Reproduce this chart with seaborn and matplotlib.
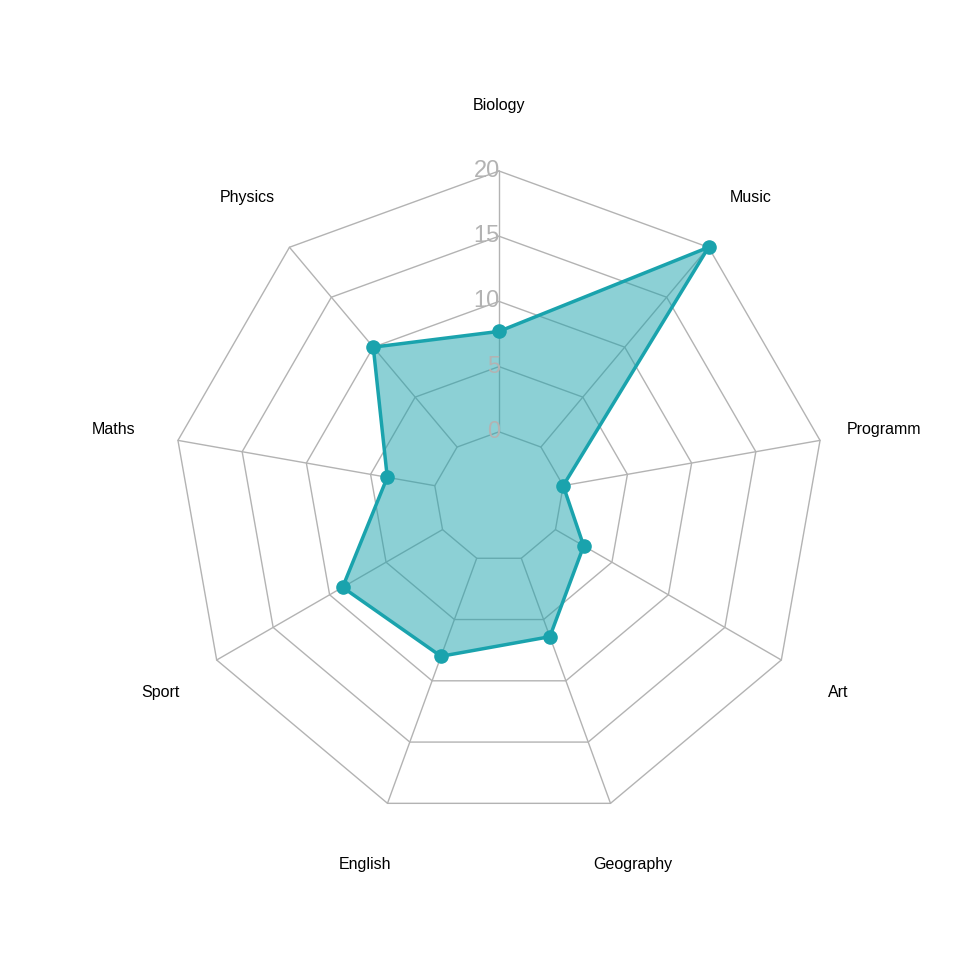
import numpy as np
import matplotlib
matplotlib.use("Agg")
import matplotlib.pyplot as plt
import seaborn as sns

categories = ["Biology", "Music", "Programm", "Art", "Geography", "English", "Sport", "Maths", "Physics"]
values = [7.7, 20, 0, 2.5, 6.4, 8.0, 8.85, 3.7, 10]
ring_levels = [0, 5, 10, 15, 20]

sns.set_style("white")
plt.rcParams['font.family'] = ['Liberation Sans', 'DejaVu Sans']

fig = plt.figure(figsize=(9.6, 9.6), dpi=100)
ax = fig.add_axes([0, 0, 1, 1])
ax.set_xlim(-499/326, 461/326)
ax.set_ylim(-463/326, 497/326)
ax.set_aspect('equal')
ax.axis('off')

n = len(categories)
ang = np.pi/2 - np.arange(n) * 2*np.pi/n

def rad(v):
    return (1 + 4*np.asarray(v, dtype=float)/20) / 5

angc = np.append(ang, ang[0])
for lv in ring_levels:
    r = rad(lv)
    ax.plot(r*np.cos(angc), r*np.sin(angc), color='#B3B3B3', lw=1, zorder=1)
for a in ang:
    ax.plot([rad(0)*np.cos(a), rad(20)*np.cos(a)], [rad(0)*np.sin(a), rad(20)*np.sin(a)],
            color='#B3B3B3', lw=1, zorder=1)
for lv in ring_levels:
    ax.text(0.003, rad(lv), str(lv), ha='right', va='center', fontsize=17, color='#B3B3B3', zorder=4)

vc = np.append(values, values[0])
rv = rad(vc)
ax.fill(rv*np.cos(angc), rv*np.sin(angc), color='#1AA3AD', alpha=0.5, lw=0, zorder=2)
ax.plot(rv*np.cos(angc), rv*np.sin(angc), color='#1AA3AD', lw=2.5, zorder=3)
ax.scatter(rv[:-1]*np.cos(ang), rv[:-1]*np.sin(ang), s=90, color='#1AA3AD', zorder=5)

for c, a in zip(categories, ang):
    ax.text(1.2*np.cos(a), 1.2*np.sin(a), c, ha='center', va='center', fontsize=11.5, color='black')

fig.savefig("out.png", dpi=100)
